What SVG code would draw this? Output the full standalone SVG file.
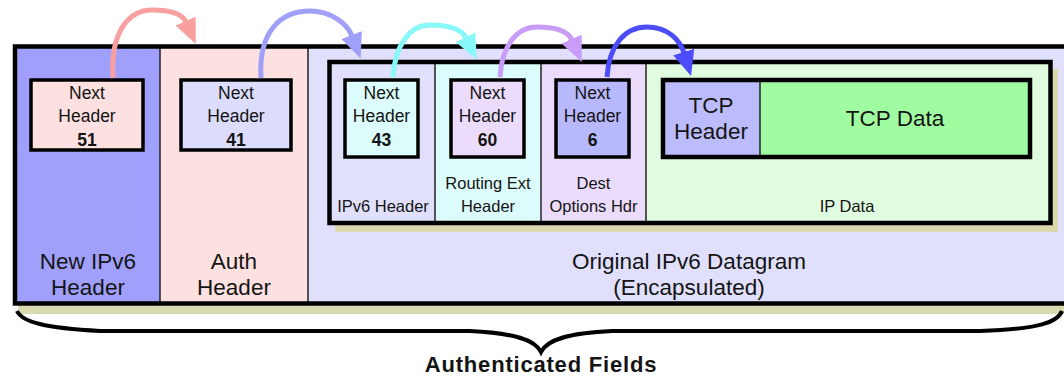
<svg xmlns="http://www.w3.org/2000/svg" width="1064" height="378" viewBox="0 0 1064 378">
<defs>
<style>
.t{font-family:"Liberation Sans",Arial,sans-serif;fill:#141414;text-anchor:middle}
.nh{font-size:17.5px}
.nb{font-size:17.5px;font-weight:bold}
.lb{font-size:16.5px}
.big{font-size:22.5px}
.box{stroke:#000;stroke-width:3.5}
.div{stroke:#222;stroke-width:1.5}
.arc{fill:none;stroke-width:5;stroke-linecap:butt}
.shadow{fill:#d9d8ae}
</style>
<marker id="h1" markerUnits="userSpaceOnUse" viewBox="0 -12 26 24" refX="1" refY="0" markerWidth="26" markerHeight="24" orient="auto"><path d="M0,-11 L25,0 L0,11 z" fill="#f8a0a0"/></marker>
<marker id="h2" markerUnits="userSpaceOnUse" viewBox="0 -12 26 24" refX="1" refY="0" markerWidth="26" markerHeight="24" orient="auto"><path d="M0,-11 L25,0 L0,11 z" fill="#a0a0fa"/></marker>
<marker id="h3" markerUnits="userSpaceOnUse" viewBox="0 -12 26 24" refX="1" refY="0" markerWidth="26" markerHeight="24" orient="auto"><path d="M0,-11 L25,0 L0,11 z" fill="#88f8f8"/></marker>
<marker id="h4" markerUnits="userSpaceOnUse" viewBox="0 -12 26 24" refX="1" refY="0" markerWidth="26" markerHeight="24" orient="auto"><path d="M0,-11 L25,0 L0,11 z" fill="#c89cf8"/></marker>
<marker id="h5" markerUnits="userSpaceOnUse" viewBox="0 -12 26 24" refX="1" refY="0" markerWidth="26" markerHeight="24" orient="auto"><path d="M0,-11 L25,0 L0,11 z" fill="#4c4cfa"/></marker>
</defs>
<rect width="1064" height="378" fill="#fff"/>

<g id="outer-frame">
<rect class="shadow" x="18" y="54" width="1060" height="260"/>
<rect x="15" y="46.5" width="1060" height="257" fill="#e0e0fc"/>
<rect x="15" y="46.5" width="145" height="257" fill="#a0a0fc"/>
<rect x="160" y="46.5" width="148" height="257" fill="#fde0e0"/>
<line class="div" x1="160" y1="47" x2="160" y2="303"/>
<line class="div" x1="308" y1="47" x2="308" y2="303"/>
<rect x="15" y="46.5" width="1060" height="257" fill="none" stroke="#000" stroke-width="4.5"/>
</g>

<g id="new-ipv6-header">
<text class="t big" x="88" y="269">New IPv6</text>
<text class="t big" x="88" y="295">Header</text>
<rect class="box" x="31" y="80" width="112" height="70" fill="#fde0e0"/>
<text class="t nh" x="87" y="99">Next</text>
<text class="t nh" x="87" y="122">Header</text>
<text class="t nb" x="87" y="146">51</text>
</g>

<g id="auth-header">
<text class="t big" x="234" y="269">Auth</text>
<text class="t big" x="234" y="295">Header</text>
<rect class="box" x="181" y="80" width="110" height="70" fill="#dcdcfc"/>
<text class="t nh" x="236" y="99">Next</text>
<text class="t nh" x="236" y="122">Header</text>
<text class="t nb" x="236" y="146">41</text>
</g>

<g id="original-datagram">
<text class="t big" x="689" y="269">Original IPv6 Datagram</text>
<text class="t big" x="689" y="295">(Encapsulated)</text>
<rect class="shadow" x="335" y="69" width="723" height="163"/>
<rect x="329.5" y="62" width="721" height="161" fill="#e0e0fc"/>
<rect x="435" y="62" width="106" height="161" fill="#dcfcfc"/>
<rect x="541" y="62" width="105" height="161" fill="#ecdcfc"/>
<rect x="646" y="62" width="405" height="161" fill="#e0fce0"/>
<line class="div" x1="435" y1="63" x2="435" y2="222"/>
<line class="div" x1="541" y1="63" x2="541" y2="222"/>
<line class="div" x1="646" y1="63" x2="646" y2="222"/>
<rect x="329.5" y="62" width="721" height="161" fill="none" stroke="#000" stroke-width="4.5"/>
</g>

<g id="ipv6-header">
<rect class="box" x="345" y="80" width="73" height="77" fill="#dcfcfc"/>
<text class="t nh" x="381.5" y="99">Next</text>
<text class="t nh" x="381.5" y="122">Header</text>
<text class="t nb" x="381.5" y="146">43</text>
<text class="t lb" x="383" y="212">IPv6 Header</text>
</g>

<g id="routing-ext-header">
<rect class="box" x="451" y="80" width="73" height="77" fill="#ecdcfc"/>
<text class="t nh" x="487.5" y="99">Next</text>
<text class="t nh" x="487.5" y="122">Header</text>
<text class="t nb" x="487.5" y="146">60</text>
<text class="t lb" x="488" y="189">Routing Ext</text>
<text class="t lb" x="488" y="212">Header</text>
</g>

<g id="dest-options-hdr">
<rect class="box" x="556" y="80" width="73" height="77" fill="#b8b8fc"/>
<text class="t nh" x="592.5" y="99">Next</text>
<text class="t nh" x="592.5" y="122">Header</text>
<text class="t nb" x="592.5" y="146">6</text>
<text class="t lb" x="593.5" y="189">Dest</text>
<text class="t lb" x="593.5" y="212">Options Hdr</text>
</g>

<g id="ip-data">
<rect x="663" y="80" width="97" height="77" fill="#bcbcfc"/>
<rect x="760" y="80" width="270" height="77" fill="#a0fca0"/>
<line class="div" x1="760" y1="80" x2="760" y2="157"/>
<rect x="663" y="80" width="367" height="77" fill="none" stroke="#000" stroke-width="4.5"/>
<text class="t big" x="711" y="113">TCP</text>
<text class="t big" x="711" y="139">Header</text>
<text class="t big" x="895" y="126">TCP Data</text>
<text class="t lb" x="847" y="212">IP Data</text>
</g>

<g id="connectors">
<path class="arc" stroke="#f8a0a0" marker-end="url(#h1)" d="M113,78 C110,30 130,10 152,10 C170,10 182,13 186,22"/>
<path class="arc" stroke="#a0a0fa" marker-end="url(#h2)" d="M261,78 C258,30 282,11 310,11 C330,11 347,23 352,36"/>
<path class="arc" stroke="#88f8f8" marker-end="url(#h3)" d="M393,77 C395,45 410,25 430,25 C450,25 462,30 466,38"/>
<path class="arc" stroke="#c89cf8" marker-end="url(#h4)" d="M500,77 C502,45 517,27 537,27 C555,27 568,31 572,40"/>
<path class="arc" stroke="#4c4cfa" marker-end="url(#h5)" d="M607,77 C609,45 625,27 647,27 C668,27 680,40 684,53"/>
</g>

<g id="authenticated-fields">
<path d="M17,311 C22,322 45,328 100,331 L470,331 C515,333 535,340 541,352 C547,340 567,333 612,331 L980,331 C1040,329 1058,322 1062,311" fill="none" stroke="#000" stroke-width="4"/>
<text class="t" x="541" y="372" style="font-size:22px;font-weight:bold;letter-spacing:0.8px">Authenticated Fields</text>
</g>
</svg>
